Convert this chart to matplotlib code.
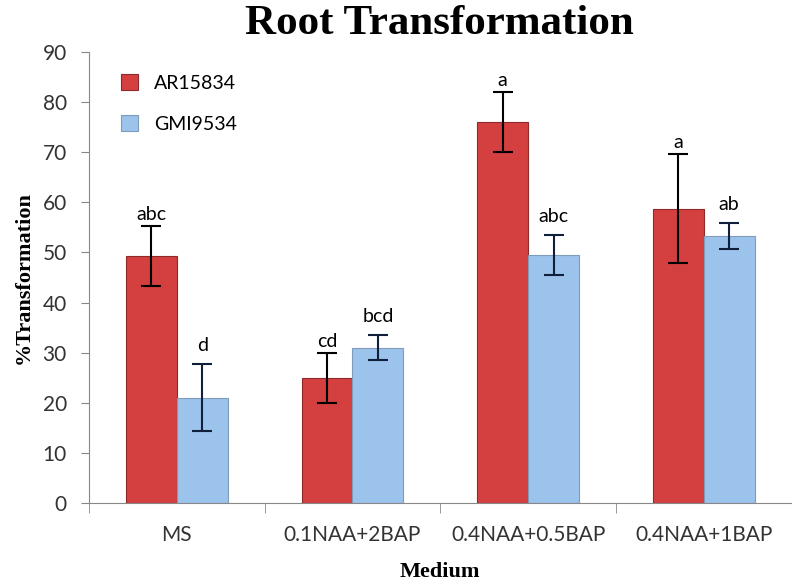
import numpy as np
import matplotlib.pyplot as plt

media = ['MS', '0.1NAA+2BAP', '0.4NAA+0.5BAP', '0.4NAA+1BAP']
ar_mean = [49.3, 25.0, 76.0, 58.7]
ar_err = [6.0, 5.0, 6.0, 10.9]
gmi_mean = [21.0, 31.0, 49.5, 53.3]
gmi_err = [6.7, 2.5, 4.0, 2.6]
ar_letters = ['abc', 'cd', 'a', 'a']
gmi_letters = ['d', 'bcd', 'abc', 'ab']

fig = plt.figure(figsize=(7.92, 5.83), dpi=100)
ax = fig.add_axes([0.1124, 0.137, 0.887, 0.774])

x = np.arange(len(media))
w = 0.29
red = '#D43F3F'
blue = '#9CC3EC'

ax.bar(x - w/2, ar_mean, w, color=red, edgecolor='#8E2A2A', linewidth=0.8, label='AR15834', zorder=2)
ax.bar(x + w/2, gmi_mean, w, color=blue, edgecolor='#7F9BBB', linewidth=0.8, label='GMI9534', zorder=2)
ax.errorbar(x - w/2, ar_mean, yerr=ar_err, fmt='none', ecolor='black', elinewidth=1.5, capsize=7, capthick=1.5, zorder=3)
ax.errorbar(x + w/2, gmi_mean, yerr=gmi_err, fmt='none', ecolor='#10203A', elinewidth=1.5, capsize=7, capthick=1.5, zorder=3)

# letras de significancia
for i in range(len(media)):
    ax.text(x[i] - w/2, ar_mean[i] + ar_err[i] + 0.6, ar_letters[i], ha='center', va='bottom', fontsize=14, family='Lato')
    ax.text(x[i] + w/2, gmi_mean[i] + gmi_err[i] + 2.0, gmi_letters[i], ha='center', va='bottom', fontsize=14, family='Lato')

ax.set_xlim(-0.5, 3.5)
ax.set_ylim(0, 90)
ax.set_yticks(range(0, 91, 10))
ax.set_xticks(x)
ax.set_xticklabels(media)
ax.set_xticks(np.arange(-0.5, 3.6, 1), minor=True)
ax.tick_params(axis='x', which='major', length=0, pad=16, labelsize=15, colors='#333333')
ax.tick_params(axis='x', which='minor', length=7, color='#888888')
ax.tick_params(axis='y', length=6, color='#888888', labelsize=15, labelcolor='#333333', pad=10)
for lab in ax.get_xticklabels() + ax.get_yticklabels():
    lab.set_family('Lato')

ax.spines['top'].set_visible(False)
ax.spines['right'].set_visible(False)
ax.spines['left'].set_color('#888888')
ax.spines['bottom'].set_color('#888888')

ax.set_ylabel('%Transformation', family='Liberation Serif', fontweight='bold', fontsize=16, labelpad=6)
ax.set_xlabel('Medium', family='Liberation Serif', fontweight='bold', fontsize=16, labelpad=12)
fig.text(0.555, 0.958, 'Root Transformation', ha='center', va='center', family='Liberation Serif', fontweight='bold', fontsize=31)

ax.legend(loc='upper left', bbox_to_anchor=(0.02, 0.99), frameon=False, handlelength=0.9, handleheight=0.9,
          labelspacing=1.2, prop={'family': 'Lato', 'size': 14})

fig.savefig('out.png', dpi=100)
